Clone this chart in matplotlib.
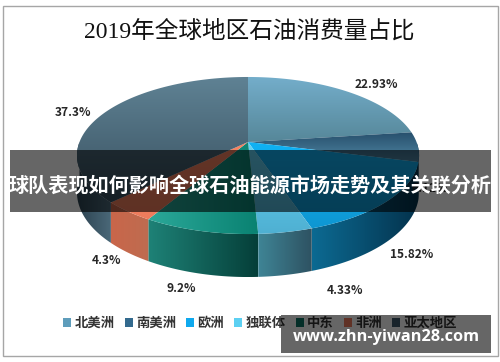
import numpy as np
import matplotlib
matplotlib.use('Agg')
import matplotlib.pyplot as plt
from matplotlib.patches import Patch, Polygon, Rectangle
from matplotlib.colors import LinearSegmentedColormap

plt.rcParams['font.family'] = ['Noto Sans CJK SC', 'DejaVu Sans']

title = '2019年全球地区石油消费量占比'
banner = '球队表现如何影响全球石油能源市场走势及其关联分析'
site = 'www.zhn-yiwan28.com'

regions = ['北美洲', '南美洲', '欧洲', '独联体', '中东', '非洲', '亚太地区']
shares = [22.93, 6.12, 15.82, 4.33, 9.2, 4.3, 37.3]
share_labels = ['22.93%', '6.12%', '15.82%', '4.33%', '9.2%', '4.3%', '37.3%']
label_xy = [(376, 84), (430, 188), (412, 255), (345, 291), (181, 289), (106, 261), (73, 112)]

legend_colors = ['#5E9DBB', '#336A8E', '#0FA9EE', '#5CD0F2', '#0B7466', '#F07F5F', '#3F5A6C']
# (start, end) of the gradient on the top face and on the side wall
top_colors = [('#74AECB', '#568799'), ('#274F6C', '#4F86A3'), ('#10B2F5', '#0E97D2'),
              ('#63D2F4', '#4FB0D2'), ('#2BA899', '#0A8272'), ('#F58260', '#EE7C5C'),
              ('#5F8294', '#38505F')]
top_horizontal = [False, False, False, False, True, False, False]
side_colors = [('#1B4A66', '#1B4A66'), ('#0E3F5B', '#06202F'), ('#0C6A92', '#04324C'),
               ('#3F8596', '#2E5262'), ('#1E8277', '#053F39'), ('#C9664A', '#BE6C50'),
               ('#2C4250', '#4A6878')]

# perspective of the pie, in pixels of the 500x362 picture
cx, cy = 248.0, 142.0
h, k, b = 168.5, 76.2, 0.172
depth = 35.6


def project(t, r=1.0):
    # t runs clockwise from the back of the pie
    X, Y = r * np.sin(t), -r * np.cos(t)
    w = 1 - b * Y
    return cx + h * X / w, cy + k * Y / w, depth / w


def gradient_fill(ax, pts, c0, c1, horizontal=True, z=2):
    pts = np.asarray(pts)
    poly = Polygon(pts, closed=True, transform=ax.transData, fc='none', ec='none')
    ax.add_patch(poly)
    grad = np.linspace(0, 1, 128).reshape(1, -1)
    if not horizontal:
        grad = grad.T
    cmap = LinearSegmentedColormap.from_list('g', [c0, c1])
    ext = (pts[:, 0].min(), pts[:, 0].max(), pts[:, 1].max(), pts[:, 1].min())
    im = ax.imshow(grad, cmap=cmap, extent=ext, aspect='auto', zorder=z, vmin=0, vmax=1,
                   interpolation='bilinear', origin='upper')
    im.set_clip_path(poly)


fig = plt.figure(figsize=(5.0, 3.62), dpi=100, facecolor='white')
ax = fig.add_axes([0, 0, 1, 1])

edges = np.concatenate([[0], np.cumsum(shares)]) / np.sum(shares) * 2 * np.pi

# side walls, only the part facing the viewer
for i in range(len(shares)):
    t0, t1 = max(edges[i], np.pi / 2), min(edges[i + 1], 3 * np.pi / 2)
    if t1 <= t0:
        continue
    t = np.linspace(t0, t1, 60)
    x, y, d = project(t)
    pts = np.r_[np.c_[x, y], np.c_[x, y + d][::-1]]
    gradient_fill(ax, pts, side_colors[i][0], side_colors[i][1], z=2)

# top faces
for i in range(len(shares)):
    t = np.linspace(edges[i], edges[i + 1], 120)
    x, y, d = project(t)
    pts = np.r_[[[cx, cy]], np.c_[x, y]]
    gradient_fill(ax, pts, top_colors[i][0], top_colors[i][1], horizontal=top_horizontal[i], z=3)

for lab, (lx, ly) in zip(share_labels, label_xy):
    ax.text(lx, ly, lab, ha='center', va='center', fontsize=8.6, fontweight='bold',
            color='#262626', zorder=4)

ax.text(249, 32, title, ha='center', va='center', fontsize=17, color='#111111',
        family=['Liberation Serif', 'Noto Sans CJK SC'], zorder=4)

handles = [Patch(fc=c, ec='none') for c in legend_colors]
leg = ax.legend(handles, regions, ncol=7, loc='center', bbox_to_anchor=(260 / 500, 1 - 323 / 362),
                frameon=False, handlelength=0.6, handleheight=0.6, handletextpad=0.25,
                columnspacing=0.75, borderpad=0, prop={'weight': 'bold', 'size': 9.6})
for txt in leg.get_texts():
    txt.set_color('#333333')

# picture frame and the two banners laid over the chart
ax.add_patch(Rectangle((2.5, 5.5), 495, 350.5, fc='none', ec='#A6A6A6', lw=1.0, zorder=5))
ax.add_patch(Rectangle((10, 150), 481, 62, fc='black', alpha=0.6, ec='none', zorder=6))
ax.add_patch(Rectangle((281, 315), 210, 38, fc='black', alpha=0.6, ec='none', zorder=6))
ax.text(250.5, 185, banner, ha='center', va='center', fontsize=14.5, fontweight='bold',
        color='white', zorder=7)
ax.text(386, 337, site, ha='center', va='center', fontsize=11.8, fontweight='bold',
        color='white', family=['Open Sans', 'DejaVu Sans'], zorder=7)

ax.set_xlim(0, 500)
ax.set_ylim(362, 0)
ax.axis('off')

fig.savefig('out.png', dpi=100)
